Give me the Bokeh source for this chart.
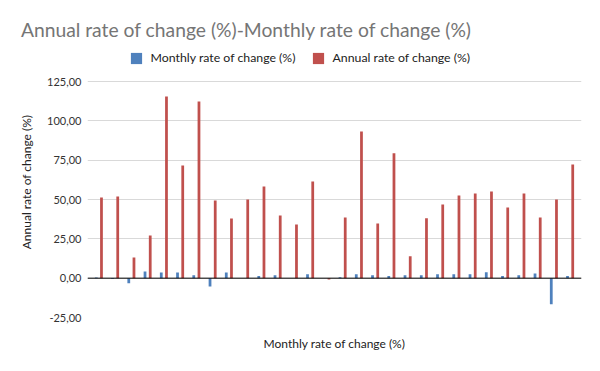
from bokeh.plotting import figure
from bokeh.models import (Range1d, FixedTicker, Span, Legend, LegendItem,
                          ColumnDataSource, Title)
from bokeh.embed import file_html
from bokeh.resources import INLINE

# ---- data ----
monthly = [0.4, -0.6, -3.2, 4.2, 3.6, 3.6, 1.9, -5.3, 3.6, 0.0,
           1.3, 1.9, 0.0, 2.5, 0.0, 0.6, 2.5, 1.9, 1.3, 1.9,
           1.9, 2.5, 2.5, 2.5, 3.8, 1.3, 1.9, 3.0, -16.5, 1.3]
annual = [51.3, 51.9, 13.1, 27.1, 115.5, 71.6, 112.3, 49.4, 37.9, 50.0,
          58.3, 39.8, 34.1, 61.4, -0.8, 38.6, 93.2, 34.7, 79.4, 14.0,
          38.1, 46.8, 52.5, 53.8, 55.1, 44.9, 53.8, 38.6, 50.0, 72.2]
y_ticks = [-25, 0, 25, 50, 75, 100, 125]
series_names = ["Monthly rate of change (%)", "Annual rate of change (%)"]
title_text = "Annual rate of change (%)-Monthly rate of change (%)"

FONT = "Lato"
BLUE = "#4F81BD"
RED = "#C0504D"

idx = list(range(len(annual)))
src = ColumnDataSource(dict(
    xb=[i - 0.16 for i in idx],
    xr=[i + 0.16 for i in idx],
    monthly=monthly,
    annual=annual,
))

# frame: x 87..581, y 46..317 ; value 125 sits at y=81, -25 at y=317
p = figure(width=584, height=355, output_backend="svg", toolbar_location=None,
           x_range=Range1d(-0.7, len(annual) - 0.3), y_range=Range1d(-25, 147.25),
           min_border_left=87, min_border_right=3, min_border_top=46,
           min_border_bottom=38, title=None)
p.outline_line_color = None
p.background_fill_color = "white"
p.border_fill_color = "white"

rb = p.vbar(x="xb", top="monthly", bottom=0, width=0.17, source=src,
            fill_color=BLUE, line_color=None)
rr = p.vbar(x="xr", top="annual", bottom=0, width=0.17, source=src,
            fill_color=RED, line_color=None)

# y axis
p.yaxis.ticker = FixedTicker(ticks=y_ticks)
p.yaxis.major_label_overrides = {t: f"{t:.2f}".replace(".", ",") for t in y_ticks}
p.yaxis.axis_line_color = None
p.yaxis.major_tick_line_color = None
p.yaxis.minor_tick_line_color = None
p.yaxis.major_tick_out = 0
p.yaxis.major_label_standoff = 6
p.yaxis.major_label_text_font = FONT
p.yaxis.major_label_text_font_size = "11px"
p.yaxis.major_label_text_color = "#333333"
p.yaxis.axis_label = "Annual rate of change (%)"
p.yaxis.axis_label_text_font = FONT
p.yaxis.axis_label_text_font_size = "12px"
p.yaxis.axis_label_text_font_style = "normal"
p.yaxis.axis_label_text_color = "#222222"
p.yaxis.axis_label_standoff = 10

# x axis
p.xaxis.ticker = FixedTicker(ticks=[])
p.xaxis.axis_line_color = None
p.xaxis.major_tick_line_color = None
p.xaxis.minor_tick_line_color = None
p.xaxis.major_label_text_font_size = "0px"
p.xaxis.axis_label = "Monthly rate of change (%)"
p.xaxis.axis_label_text_font = FONT
p.xaxis.axis_label_text_font_size = "12px"
p.xaxis.axis_label_text_font_style = "normal"
p.xaxis.axis_label_text_color = "#222222"
p.xaxis.axis_label_standoff = 18

p.xgrid.grid_line_color = None
p.ygrid.grid_line_color = "#D9D9D9"
p.ygrid.grid_line_width = 1

p.add_layout(Span(location=0, dimension="width", line_color="#000000", line_width=1))

legend = Legend(items=[LegendItem(label=series_names[0], renderers=[rb]),
                       LegendItem(label=series_names[1], renderers=[rr])],
                orientation="horizontal", location=(41.6, 252),
                glyph_width=14, glyph_height=14, label_standoff=8, spacing=15,
                padding=0, margin=0, border_line_color=None,
                background_fill_alpha=0, label_text_font=FONT,
                label_text_font_size="12.3px", label_text_color="#222222",
                label_height=14)
p.add_layout(legend)

title = Title(text=title_text, text_font=FONT, text_font_size="19.3px",
              text_color="#757575", text_font_style="normal", align="left",
              offset=-66.6, standoff=11)
p.add_layout(title, "above")

open("out.html", "w").write(file_html(p, INLINE))
